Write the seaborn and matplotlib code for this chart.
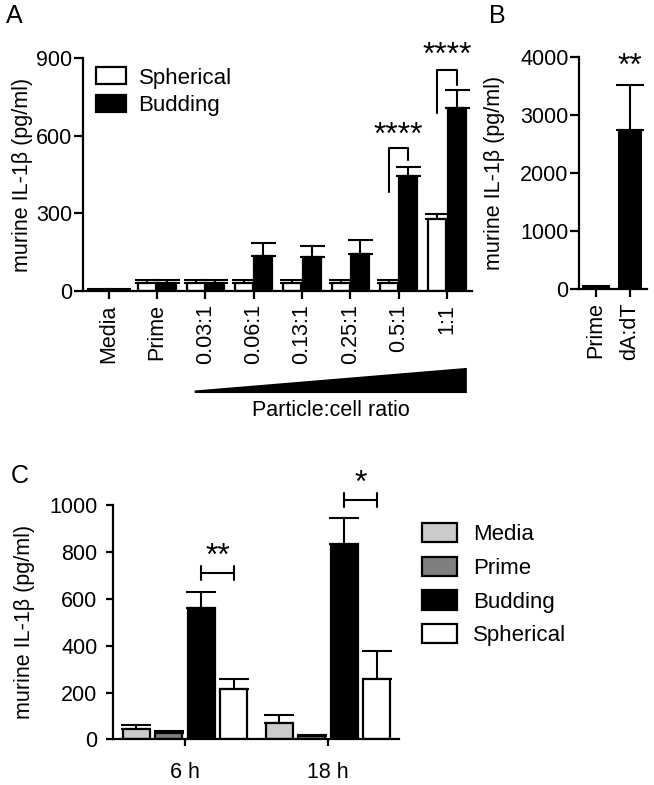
import numpy as np
import pandas as pd
import matplotlib
matplotlib.use('Agg')
import matplotlib.pyplot as plt
import matplotlib.transforms as mtransforms
from matplotlib.patches import Polygon
import seaborn as sns

# ---- data ----
# panel A
ratios = ['Media', 'Prime', '0.03:1', '0.06:1', '0.13:1', '0.25:1', '0.5:1', '1:1']
sph_mean = [5, 31, 31, 31, 31, 31, 31, 280]
sph_err = [2, 10, 10, 10, 10, 10, 10, 18]
bud_mean = [5, 31, 31, 137, 132, 142, 444, 706]
bud_err = [2, 10, 10, 50, 42, 54, 36, 69]
sig_a_groups = ['0.5:1', '1:1']
sig_a_labels = ['****', '****']

# panel B
b_groups = ['Prime', 'dA:dT']
b_mean = [40, 2747]
b_err = [10, 776]
sig_b_label = '**'

# panel C
times = ['6 h', '18 h']
treatments = ['Media', 'Prime', 'Budding', 'Spherical']
c_media = [43, 71]
c_media_err = [18, 32]
c_prime = [27, 15]
c_prime_err = [7, 3]
c_bud = [563, 837]
c_bud_err = [68, 107]
c_sph = [215, 258]
c_sph_err = [44, 120]
sig_c_labels = ['**', '*']

# ---- style ----
sns.set_theme(style='ticks', rc={'axes.edgecolor': 'black', 'xtick.color': 'black',
                                 'ytick.color': 'black', 'axes.linewidth': 1.6,
                                 'xtick.major.width': 1.6, 'ytick.major.width': 1.6,
                                 'text.color': 'black', 'axes.labelcolor': 'black'})
plt.rcParams['font.family'] = ['Liberation Sans', 'DejaVu Sans']
FS = 15.5       # ticks and axis labels
FS_LEG = 16     # legend text
FS_STAR = 23    # significance stars

W, H = 654, 785
fig = plt.figure(figsize=(W / 100, H / 100), dpi=100)


def px_rect(left, top, right, bottom):
    # figure-pixel box -> add_axes rect
    return [left / W, 1 - bottom / H, (right - left) / W, (bottom - top) / H]


def add_errbars(ax, container, means, errs, capsize, lw=1.5):
    for bar, m, e in zip(container, means, errs):
        x = bar.get_x() + bar.get_width() / 2
        ax.errorbar(x, m, yerr=[[0], [e]], fmt='none', ecolor='black',
                    elinewidth=lw, capsize=capsize, capthick=lw, zorder=1)


def bar_center(bar):
    return bar.get_x() + bar.get_width() / 2


# ================= panel A =================
ax_a = fig.add_axes(px_rect(82.7, 58, 472, 291))
df_a = pd.DataFrame({'ratio': ratios * 2,
                     'shape': ['Spherical'] * len(ratios) + ['Budding'] * len(ratios),
                     'il1b': sph_mean + bud_mean})
sns.barplot(data=df_a, x='ratio', y='il1b', hue='shape', hue_order=['Spherical', 'Budding'],
            palette={'Spherical': 'white', 'Budding': 'black'}, edgecolor='black',
            linewidth=1.6, width=0.8, gap=0.075, errorbar=None, ax=ax_a, zorder=2)
for cont, m, e in zip(ax_a.containers, [sph_mean, bud_mean], [sph_err, bud_err]):
    add_errbars(ax_a, cont, m, e, capsize=9)

ax_a.set_xlim(-0.537, 7.516)
ax_a.set_ylim(0, 900)
ax_a.set_yticks([0, 300, 600, 900])
ax_a.set_xlabel('')
ax_a.set_ylabel('murine IL-1β (pg/ml)', fontsize=FS)
ax_a.yaxis.set_label_coords(-0.128, 0.5)
ax_a.tick_params(axis='y', length=6.5, pad=1, labelsize=FS)
ax_a.tick_params(axis='x', length=5.5, pad=4, labelsize=FS, labelrotation=90)
sns.despine(ax=ax_a)

h, l = ax_a.get_legend_handles_labels()
ax_a.legend(h, l, frameon=False, loc='upper left', bbox_to_anchor=(0.035, 0.96),
            fontsize=FS_LEG, handlelength=1.35, handleheight=0.8, handletextpad=0.55,
            labelspacing=0.3, borderaxespad=0, borderpad=0)

# significance brackets (left leg bottom, top, right leg bottom)
brackets_a = [(383, 551, 506), (687, 852, 797)]
stars_a_y = [568, 876]
sph_bars, bud_bars = ax_a.containers[0], ax_a.containers[1]
for grp, lab, (yl, yt, yr), ys in zip(sig_a_groups, sig_a_labels, brackets_a, stars_a_y):
    i = ratios.index(grp)
    x1, x2 = bar_center(sph_bars[i]), bar_center(bud_bars[i])
    ax_a.plot([x1, x1, x2, x2], [yl, yt, yt, yr], color='black', lw=1.5, clip_on=False)
    ax_a.text((x1 + x2) / 2, ys, lab, ha='center', va='baseline', fontsize=FS_STAR,
              clip_on=False)

# increasing-ratio wedge under the axis
blend = mtransforms.blended_transform_factory(ax_a.transData, ax_a.transAxes)
wedge = Polygon([[1.78, -0.438], [7.41, -0.438], [7.41, -0.33], [1.78, -0.427]],
                closed=True, facecolor='black', edgecolor='none',
                transform=blend, clip_on=False)
ax_a.add_patch(wedge)
ax_a.text(4.6, -0.515, 'Particle:cell ratio', transform=blend, ha='center', va='center',
          fontsize=FS)

# ================= panel B =================
ax_b = fig.add_axes(px_rect(579, 57, 647, 289.3))
sns.barplot(x=b_groups, y=b_mean, color='black', edgecolor='black', linewidth=1.5,
            width=0.63, errorbar=None, ax=ax_b, zorder=2)
add_errbars(ax_b, ax_b.containers[0], b_mean, b_err, capsize=10)
ax_b.set_xlim(-0.5, 1.5)
ax_b.set_ylim(0, 4000)
ax_b.set_yticks([0, 1000, 2000, 3000, 4000])
ax_b.set_ylabel('murine IL-1β (pg/ml)', fontsize=FS)
ax_b.yaxis.set_label_coords(-1.09, 0.5)
ax_b.tick_params(axis='y', length=6.5, pad=1, labelsize=FS)
ax_b.tick_params(axis='x', length=5.5, pad=4, labelsize=FS, labelrotation=90)
sns.despine(ax=ax_b)
ax_b.text(bar_center(ax_b.containers[0][1]), 3700, sig_b_label, ha='center',
          va='baseline', fontsize=FS_STAR, clip_on=False)

# ================= panel C =================
ax_c = fig.add_axes(px_rect(112.7, 505.4, 399, 739.3))
df_c = pd.DataFrame({'time': times * 4,
                     'treatment': [t for t in treatments for _ in times],
                     'il1b': c_media + c_prime + c_bud + c_sph})
sns.barplot(data=df_c, x='time', y='il1b', hue='treatment', hue_order=treatments,
            palette={'Media': '#cbcbcb', 'Prime': '#7f7f7f', 'Budding': 'black',
                     'Spherical': 'white'},
            edgecolor='black', linewidth=1.6, width=0.91, gap=0.167, errorbar=None,
            ax=ax_c, zorder=2)
for cont, m, e in zip(ax_c.containers, [c_media, c_prime, c_bud, c_sph],
                      [c_media_err, c_prime_err, c_bud_err, c_sph_err]):
    add_errbars(ax_c, cont, m, e, capsize=10.5)
ax_c.set_xlim(-0.506, 1.497)
ax_c.set_ylim(0, 1000)
ax_c.set_yticks(range(0, 1001, 200))
ax_c.set_xlabel('')
ax_c.set_ylabel('murine IL-1β (pg/ml)', fontsize=FS)
ax_c.yaxis.set_label_coords(-0.27, 0.5)
ax_c.tick_params(axis='y', length=5, pad=6, labelsize=FS)
ax_c.tick_params(axis='x', length=5, pad=11, labelsize=FS)
sns.despine(ax=ax_c)

h, l = ax_c.get_legend_handles_labels()
ax_c.legend(h, l, frameon=False, loc='upper left', bbox_to_anchor=(1.08, 0.925),
            fontsize=FS_LEG, handlelength=1.6, handleheight=0.95, handletextpad=0.7,
            labelspacing=0.52, borderaxespad=0, borderpad=0)

# brackets between budding and spherical
brackets_c_y = [712, 1023]
stars_c_y = [745, 1057]
bud_c, sph_c = ax_c.containers[2], ax_c.containers[3]
for i, (yb, ys, lab) in enumerate(zip(brackets_c_y, stars_c_y, sig_c_labels)):
    x1, x2 = bar_center(bud_c[i]), bar_center(sph_c[i])
    ax_c.plot([x1, x2], [yb, yb], color='black', lw=1.5, clip_on=False)
    for xx in (x1, x2):
        ax_c.plot([xx, xx], [yb - 30, yb + 30], color='black', lw=1.5, clip_on=False)
    ax_c.text((x1 + x2) / 2, ys, lab, ha='center', va='baseline', fontsize=FS_STAR,
              clip_on=False)

# panel letters
fig.text(6 / W, 1 - 4 / H, 'A', fontsize=18, ha='left', va='top')
fig.text(489 / W, 1 - 4 / H, 'B', fontsize=18, ha='left', va='top')
fig.text(11 / W, 1 - 464 / H, 'C', fontsize=18, ha='left', va='top')

fig.savefig('out.png', dpi=100)
